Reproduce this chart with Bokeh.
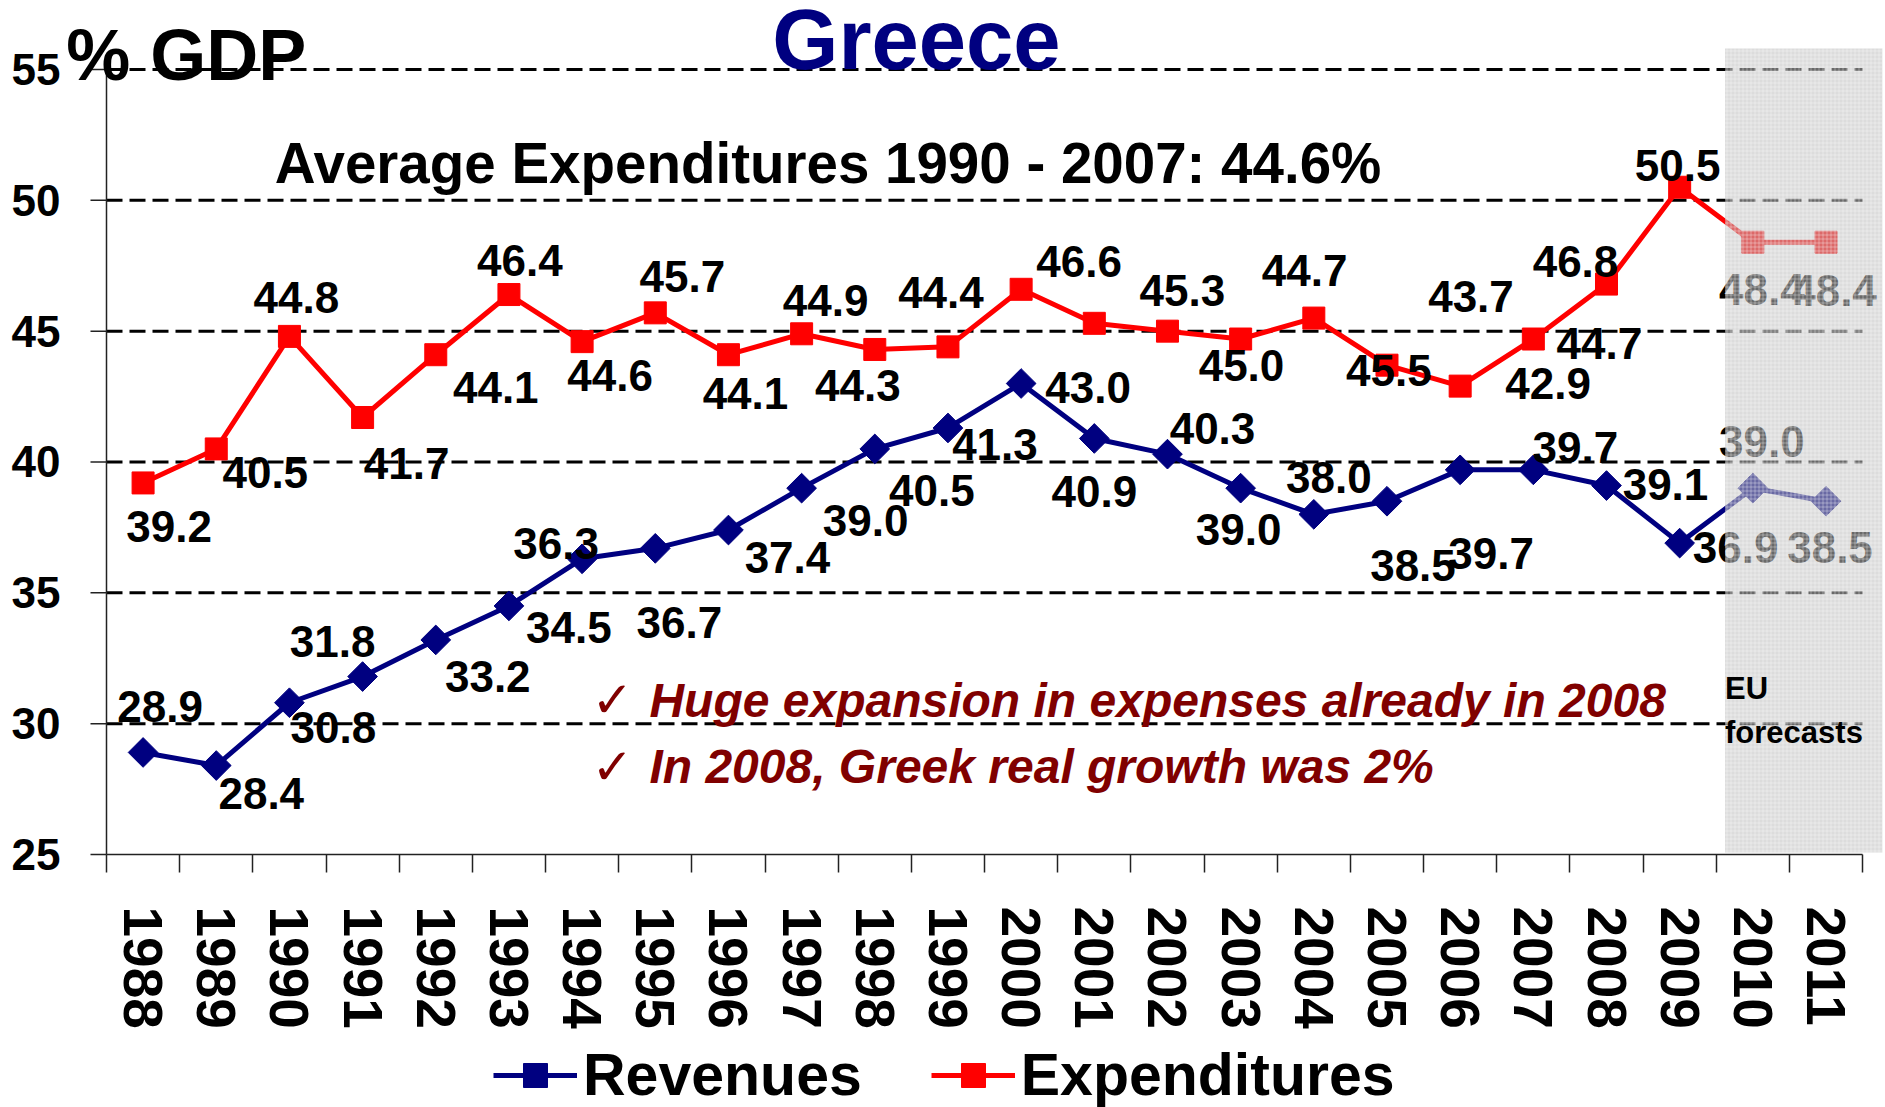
import math
from bokeh.plotting import figure
from bokeh.models import (Range1d, FixedTicker, LinearAxis, Label, BoxAnnotation,
                          Legend, LegendItem)
from bokeh.core.properties import value
from bokeh.embed import file_html
from bokeh.resources import INLINE

# ---------------- data ----------------
years = [str(y) for y in range(1988, 2012)]
revenues = [28.9, 28.4, 30.8, 31.8, 33.2, 34.5, 36.3, 36.7, 37.4, 39.0, 40.5, 41.3,
            43.0, 40.9, 40.3, 39.0, 38.0, 38.5, 39.7, 39.7, 39.1, 36.9, 39.0, 38.5]
expenditures = [39.2, 40.5, 44.8, 41.7, 44.1, 46.4, 44.6, 45.7, 44.1, 44.9, 44.3, 44.4,
                46.6, 45.3, 45.0, 44.7, 45.5, 43.7, 42.9, 44.7, 46.8, 50.5, 48.4, 48.4]
forecast_years = ["2010", "2011"]
y_ticks = [25, 30, 35, 40, 45, 50, 55]

# label placement (screen px offsets from each point) - style only
exp_dx = [26, 49, 7, 44, 60, 11, 28, 27, 17, 24, -17, -7, 58, 88, 74, 64, 75, 84, 88, 66, -31, -2, 9, 8]
exp_dy = [44, 24, -39, 46, 33, -34, 34, -36, 39, -33, 36, -54, -28, -33, 34, -69, 52, -69, -3, 4, -23, -22, 47, 48]
rev_dx = [17, 45, 44, -30, 52, 60, -26, 24, 59, 64, 57, 47, 67, 0, 45, -2, 15, 26, 31, 42, 59, 56, 9, 4]
rev_dy = [-46, 28, 25, -35, 37, 22, -15, 74, 27, 32, 42, 17, 4, 53, -26, 41, -37, 64, 84, -22, -1, 4, -47, 46]

FONT = "Liberation Sans"
NAVY = "#000080"
RED = "#ff0000"
DARKRED = "#800000"

idx = list(range(len(years)))
x0 = -0.5                 # left edge of the category axis
x1 = len(years) - 0.5     # right edge of the category axis
ytick_len = 0.2187        # 16 px in category units

p = figure(width=1885, height=1107, output_backend="svg", toolbar_location=None,
           x_range=Range1d(-1.9487, 23.813), y_range=Range1d(15.331, 57.637),
           x_axis_type=None, y_axis_type=None, min_border=0)
p.outline_line_color = None
p.background_fill_color = "white"
p.border_fill_color = "white"

# dashed horizontal grid lines and short outward value-axis ticks
grid_y = y_ticks[1:]
p.segment(x0=[x0] * len(grid_y), y0=grid_y, x1=[x1] * len(grid_y), y1=grid_y,
          line_color="black", line_width=3, line_dash="16 7")
p.segment(x0=[x0 - ytick_len] * len(y_ticks), y0=y_ticks, x1=[x0] * len(y_ticks), y1=y_ticks,
          line_color="#222222", line_width=1.5)

# y axis (drawn at the left edge of the categories)
yaxis = LinearAxis(ticker=FixedTicker(ticks=y_ticks), bounds=(y_ticks[0], y_ticks[-1]),
                   fixed_location=x0,
                   axis_line_color="#222222", axis_line_width=1.5,
                   major_tick_out=0, major_tick_in=0, minor_tick_out=0, minor_tick_in=0,
                   major_tick_line_color=None, minor_tick_line_color=None,
                   major_label_standoff=46, major_label_text_font=FONT,
                   major_label_text_font_size="44px", major_label_text_font_style="bold",
                   major_label_text_color="black")
p.add_layout(yaxis, "left")

# x axis (drawn at the bottom of the value scale)
xaxis = LinearAxis(ticker=FixedTicker(ticks=idx, minor_ticks=[i - 0.5 for i in range(len(years) + 1)]),
                   bounds=(x0, x1), fixed_location=y_ticks[0],
                   major_label_overrides={i: y for i, y in enumerate(years)},
                   major_label_orientation="vertical",
                   major_tick_out=0, major_tick_in=0, minor_tick_out=18, minor_tick_in=0,
                   minor_tick_line_color="#222222", minor_tick_line_width=1.5,
                   axis_line_color="#222222", axis_line_width=1.5,
                   major_label_standoff=34, major_label_text_font=FONT,
                   major_label_text_font_size="55px", major_label_text_font_style="bold",
                   major_label_text_color="black")
p.add_layout(xaxis, "below")

# series
r_line = p.line(idx, revenues, line_color=NAVY, line_width=5)
r_pts = p.scatter(idx, revenues, marker="square", angle=math.pi / 4, size=21,
                  fill_color=NAVY, line_color=NAVY)
e_line = p.line(idx, expenditures, line_color=RED, line_width=5)
e_pts = p.scatter(idx, expenditures, marker="square", size=22, fill_color=RED, line_color=RED)

lab_style = dict(text_align="center", text_baseline="middle", text_font=value(FONT),
                 text_font_style="bold", text_font_size="44px", text_color="black")
p.text(x=idx, y=expenditures, text=[f"{v:.1f}" for v in expenditures],
       x_offset=exp_dx, y_offset=exp_dy, **lab_style)
p.text(x=idx, y=revenues, text=[f"{v:.1f}" for v in revenues],
       x_offset=rev_dx, y_offset=rev_dy, **lab_style)

# forecast band
fc_left = years.index(forecast_years[0]) - 0.5 + 0.12
fc_right = x1 + 0.27
band = BoxAnnotation(left=fc_left, right=fc_right, bottom=25.08, top=55.80,
                     fill_color="#c0c0c0", fill_alpha=0.55,
                     line_color=None, hatch_pattern="+", hatch_color="#ffffff",
                     hatch_alpha=0.35, hatch_scale=4, hatch_weight=1)
p.add_layout(band)

# texts (y = vertical centre of the text)
def add_label(x, y, text, size, color="black", style="bold", align="left", font=FONT):
    p.add_layout(Label(x=x, y=y, x_units="data", y_units="data", text=text,
                       text_font=font, text_font_size=size, text_font_style=style,
                       text_color=color, text_align=align, text_baseline="middle"))

add_label(fc_left, 31.35, "EU", "31px")
add_label(fc_left, 29.67, "forecasts", "31px")
add_label(10.57, 56.15, "Greece", "85px", color=NAVY, align="center")
add_label(-1.05, 55.57, "% GDP", "72px")
add_label(1.80, 51.39, "Average Expenditures 1990 - 2007: 44.6%", "56.5px")
add_label(6.13, 30.90, "\u2713", "50px", color=DARKRED, style="normal", font="DejaVu Sans")
add_label(6.13, 28.35, "\u2713", "50px", color=DARKRED, style="normal", font="DejaVu Sans")
add_label(6.92, 30.90, "Huge expansion in expenses already in 2008", "48px", color=DARKRED, style="bold italic")
add_label(6.92, 28.35, "In 2008, Greek real growth was 2%", "48px", color=DARKRED, style="bold italic")

legend = Legend(items=[LegendItem(label="Revenues", renderers=[r_line, r_pts]),
                       LegendItem(label="Expenditures", renderers=[e_line, e_pts])],
                orientation="horizontal", location=(493, -2),
                label_text_font=FONT, label_text_font_size="59px", label_text_font_style="bold",
                label_text_color="black",
                glyph_width=84, glyph_height=60, label_standoff=6, spacing=69,
                padding=0, margin=0, border_line_color=None, background_fill_alpha=0)
p.add_layout(legend)

open("out.html", "w").write(file_html(p, INLINE))
